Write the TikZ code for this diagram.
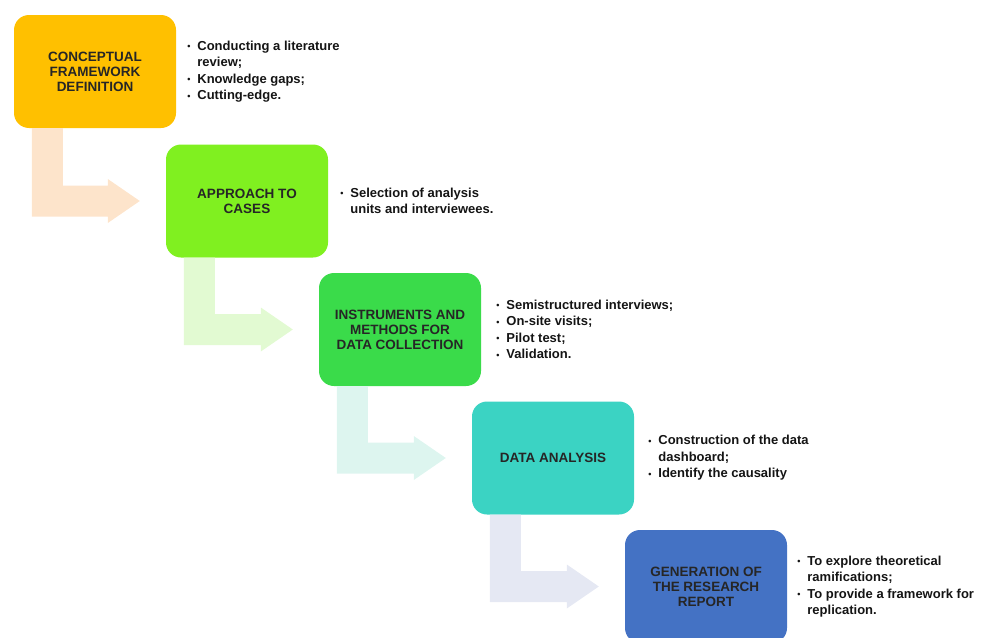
\documentclass[tikz,border=0pt]{standalone}
\usepackage{fontspec}
\setmainfont{Liberation Sans}
\usepackage{tikz}
\usetikzlibrary{positioning,calc}

\definecolor{stageA}{HTML}{FFC000}
\definecolor{stageB}{HTML}{80F020}
\definecolor{stageC}{HTML}{3ADB4A}
\definecolor{stageD}{HTML}{3BD3C3}
\definecolor{stageE}{HTML}{4472C4}
\definecolor{flowA}{HTML}{FDE4CB}
\definecolor{flowB}{HTML}{E2FAD2}
\definecolor{flowC}{HTML}{DDF5EF}
\definecolor{flowD}{HTML}{E5E8F3}

\newcommand{\dotitem}{\makebox[10pt][l]{\raisebox{0.5pt}{\fontsize{9}{9}\selectfont\textbullet}}}
\newcommand{\dotcont}{\hspace*{10pt}}

\tikzset{
	stage/.style={rectangle, rounded corners=15pt, minimum width=162pt, minimum height=113pt,
		align=center, text=black!85, font=\fontsize{13.5}{15}\selectfont\bfseries},
	notes/.style={align=left, inner sep=0pt, text=black!92,
		font=\fontsize{13}{16.5}\selectfont\bfseries},
}

\begin{document}
\begin{tikzpicture}[x=1pt, y=-1pt]

	\useasboundingbox (0,0) rectangle (987,637);

	% stages
	\node[stage, fill=stageA] (def) at (95,71.5) {CONCEPTUAL\\FRAMEWORK\\DEFINITION};
	\node[stage, fill=stageB] (cases) at (247,201) {APPROACH TO\\CASES};
	\node[stage, fill=stageC] (collect) at (400,329.5) {INSTRUMENTS AND\\METHODS FOR\\DATA COLLECTION};
	\node[stage, fill=stageD] (analysis) at (553,458) {DATA ANALYSIS};
	\node[stage, fill=stageE] (report) at (706,586.5) {GENERATION OF\\THE RESEARCH\\REPORT};

	% notes beside each stage
	\node[notes, right=11pt of def] (defnotes) {\dotitem Conducting a literature\\\dotcont review;\\\dotitem Knowledge gaps;\\\dotitem Cutting-edge.};
	\node[notes, right=12pt of cases] (casesnotes) {\dotitem Selection of analysis\\\dotcont units and interviewees.};
	\node[notes, right=15pt of collect] (collectnotes) {\dotitem Semistructured interviews;\\\dotitem On-site visits;\\\dotitem Pilot test;\\\dotitem Validation.};
	\node[notes, right=14pt of analysis] (analysisnotes) {\dotitem Construction of the data\\\dotcont dashboard;\\\dotitem Identify the causality};
	\node[notes, right=10pt of report] (reportnotes) {\dotitem To explore theoretical\\\dotcont ramifications;\\\dotitem To provide a framework for\\\dotcont replication.};

	% bent arrows
	\foreach \a/\b/\c in {def/cases/flowA, cases/collect/flowB, collect/analysis/flowC, analysis/report/flowD} {
		\fill[\c] let \p1=(\a.south west), \p2=(\b.west) in
			(\x1+18pt,\y1) -- (\x1+18pt,\y2-15.5pt) -- (\x2-58pt,\y2-15.5pt)
			-- (\x2-58pt,\y2-22pt) -- (\x2-26pt,\y2) -- (\x2-58pt,\y2+22pt)
			-- (\x2-58pt,\y2+15.5pt) -- (\x1+49pt,\y2+15.5pt) -- (\x1+49pt,\y1) -- cycle;
	}

\end{tikzpicture}
\end{document}
